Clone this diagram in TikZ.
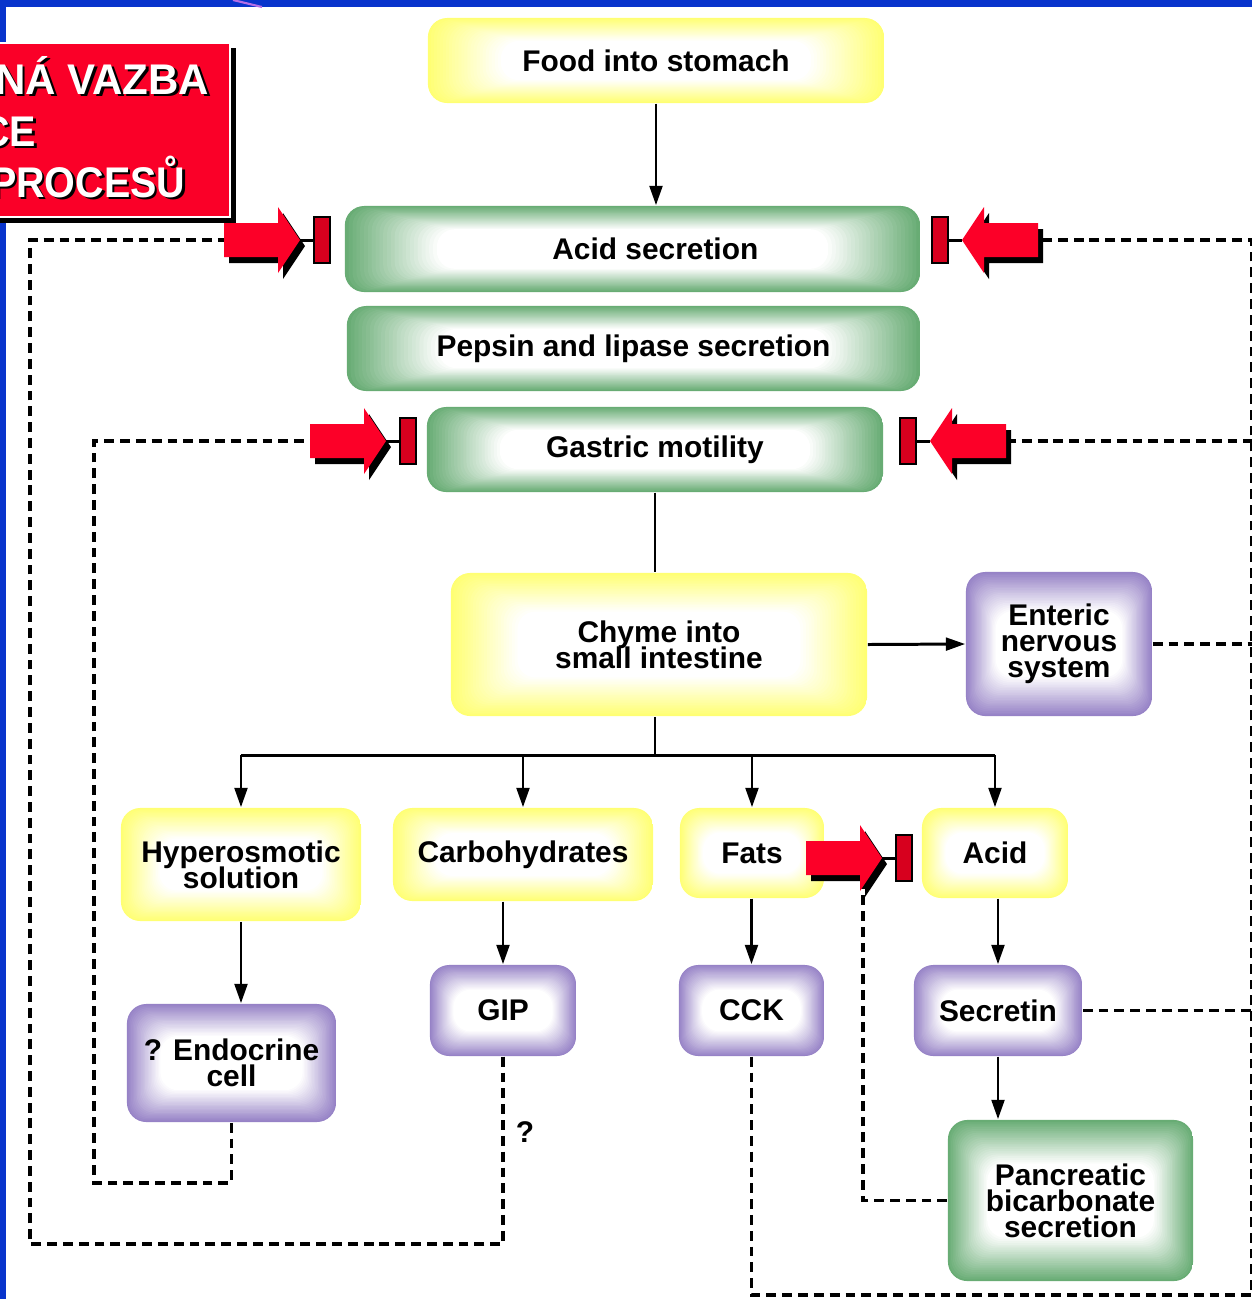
\documentclass[tikz,border=0pt]{standalone}
\usepackage{fontspec}
\setmainfont{Liberation Sans}
\usetikzlibrary{arrows.meta,calc}

\definecolor{frameblue}{RGB}{8,52,204}
\definecolor{boxred}{RGB}{250,0,40}
\definecolor{arrred}{RGB}{252,0,40}
\definecolor{barred}{RGB}{215,0,30}
\definecolor{yel}{RGB}{255,255,115}
\definecolor{grn}{RGB}{104,172,116}
\definecolor{pur}{RGB}{150,130,198}
\definecolor{streak}{RGB}{180,110,230}

\newcommand{\boxfont}{\bfseries\fontsize{8.5}{7.4}\selectfont\lineskiplimit-100pt\relax}

\begin{document}
\begin{tikzpicture}[x=0.01cm,y=-0.01cm,
  lbl/.style={font=\boxfont, align=center},
  glow/.style={lbl, rounded corners=5.5pt, inner sep=0pt,
    path picture={
      \foreach \k in {0,...,24}{
        \pgfmathtruncatemacro{\mix}{100-100*\k/24}
        \fill[#1!\mix!white, rounded corners=5pt]
          let \p1=(path picture bounding box.south west),
              \p2=(path picture bounding box.north east),
              \n1={0.16*(\x2-\x1)*\k/24}, \n2={0.27*(\y2-\y1)*\k/24}
          in ({\x1+\n1},{\y1+\n2}) rectangle ({\x2-\n1},{\y2-\n2});
      }}},
  con/.style={line width=0.85pt},
  arr/.style={con, -{Triangle[length=5.5pt,width=3.6pt]}},
  fb/.style={line width=1pt, dash pattern=on 2.8pt off 1.7pt},
  title/.style={anchor=base east, inner sep=0pt, font=\bfseries\fontsize{12.2}{14}\selectfont},
  inhib/.pic={
    \begin{scope}[shift={(5,6)}, xscale=#1]
      \fill[black] (0,-17) -- (54,-17) -- (54,-33) -- (76,0) -- (54,33) -- (54,17) -- (0,17) -- cycle;
    \end{scope}
    \begin{scope}[xscale=#1]
      \fill[arrred] (0,-17) -- (54,-17) -- (54,-33) -- (76,0) -- (54,33) -- (54,17) -- (0,17) -- cycle;
      \draw[con] (76,0) -- (90,0);
      \filldraw[fill=barred, draw=black, line width=0.7pt] (90,-23) rectangle (106,23);
    \end{scope}
  }]
\pgfmathsetmacro{\xedge}{1252}
\useasboundingbox (0,0) rectangle (1252,1299);
\clip (0,0) rectangle (1252,1299);
\fill[white] (0,0) rectangle (1252,1299);

% frame
\fill[frameblue] (0,0) rectangle (1252,7);
\fill[frameblue] (0,0) rectangle (6,1299);
\draw[streak, line width=0.6pt] (233,0) -- (262,7);

% title box
\fill[black] (-10,48) rectangle (236,223);
\filldraw[fill=boxred, draw=white, line width=0.6pt] (-10,43) rectangle (230,217);
\foreach \t/\xr/\yb/\sc in {NÁ VAZBA/210/94/0.98, CE/37/146/0.92, PROCESŮ/186/197/0.92}{
  \node[title, black] (ts\yb) at (\xr+2.5,\yb+2.5) {\scalebox{\sc}[1]{\t}};
  \node[title, white] (tt\yb) at (\xr,\yb) {\scalebox{\sc}[1]{\t}};
}

% boxes
\node[glow=yel, minimum width=4.56cm, minimum height=0.85cm] (food) at (656,60.5) {Food into stomach};
\node[glow=grn, minimum width=5.75cm, minimum height=0.86cm,
  label={[lbl,xshift=6.5pt]center:Acid secretion}] (acid) at (632.5,249) {};
\node[glow=grn, minimum width=5.73cm, minimum height=0.85cm] (pepsin) at (633.5,348.5) {Pepsin and lipase secretion};
\node[glow=grn, minimum width=4.56cm, minimum height=0.85cm] (gastric) at (655,449.5) {Gastric motility};
\node[glow=yel, minimum width=4.16cm, minimum height=1.43cm] (chyme) at (659,644.5) {Chyme into\\small intestine};
\node[glow=pur, minimum width=1.86cm, minimum height=1.44cm] (enteric) at (1059,644) {Enteric\\nervous\\system};
\node[glow=yel, minimum width=2.40cm, minimum height=1.13cm] (hyper) at (241,864.5) {Hyperosmotic\\solution};
\node[glow=yel, minimum width=2.60cm, minimum height=0.93cm] (carb) at (523,854.5) {Carbohydrates};
\node[glow=yel, minimum width=1.44cm, minimum height=0.90cm] (fats) at (752,853) {Fats};
\node[glow=yel, minimum width=1.46cm, minimum height=0.90cm] (acidb) at (995,853) {Acid};
\node[glow=pur, minimum width=2.09cm, minimum height=1.18cm] (endo) at (231.5,1063) {? Endocrine\\cell};
\node[glow=pur, minimum width=1.46cm, minimum height=0.91cm] (gip) at (503,1010.5) {GIP};
\node[glow=pur, minimum width=1.45cm, minimum height=0.91cm] (cck) at (751.5,1010.5) {CCK};
\node[glow=pur, minimum width=1.68cm, minimum height=0.91cm] (secretin) at (998,1010.5) {Secretin};
\node[glow=grn, minimum width=2.45cm, minimum height=1.61cm] (panc) at (1070.5,1200.5) {Pancreatic\\bicarbonate\\secretion};
\node[lbl] (qm) at (525,1132) {?};

% stimulating paths
\draw[arr] (food.south) -- (food.south |- acid.north);
\draw[con] (gastric.south) -- (gastric.south |- chyme.north);
\draw[arr] (chyme.east) -- (enteric.west);
\coordinate (bus) at (655,755);
\draw[con] (bus |- chyme.south) -- (bus);
\draw[con] (bus -| hyper.north) -- (bus -| acidb.north);
\foreach \n in {hyper,carb,fats,acidb}
  \draw[arr] (bus -| \n.north) -- (\n.north);
\draw[arr] (hyper.south) -- (hyper.south |- endo.north);
\draw[arr] (gip.north |- carb.south) -- (gip.north);
\draw[arr] (cck.north |- fats.south) -- (cck.north);
\draw[arr] (secretin.north |- acidb.south) -- (secretin.north);
\draw[arr] (secretin.south) -- (secretin.south |- panc.north);

% tails of the inhibition arrows
\coordinate (ia-tail) at (224,240);
\coordinate (ib-tail) at (1038,240);
\coordinate (ic-tail) at (310,441);
\coordinate (id-tail) at (1006,441);
\coordinate (ie-tail) at (806,858);
\coordinate (ie-base) at (863,858);

% feedback (dashed)
\draw[fb] (endo.south) -- ++(0,60) -| (94,441) -- (ic-tail);
\draw[fb] (gip.south) -- ++(0,187) -| (30,240) -- (ia-tail);
\draw[fb] (cck.south) |- (\xedge,1295) -- (\xedge,240) -- (ib-tail);
\draw[fb] (id-tail) -- (\xedge,441);
\draw[fb] (enteric.east) -- (enteric.east -| \xedge,0);
\draw[fb] (secretin.east) -- (secretin.east -| \xedge,0);
\draw[fb] (panc.west) -| (ie-base);

% inhibition arrows on top
\pic (ia) at (ia-tail) {inhib=1};
\pic (ib) at (ib-tail) {inhib=-1};
\pic (ic) at (ic-tail) {inhib=1};
\pic (id) at (id-tail) {inhib=-1};
\pic (ie) at (ie-tail) {inhib=1};
\end{tikzpicture}
\end{document}
